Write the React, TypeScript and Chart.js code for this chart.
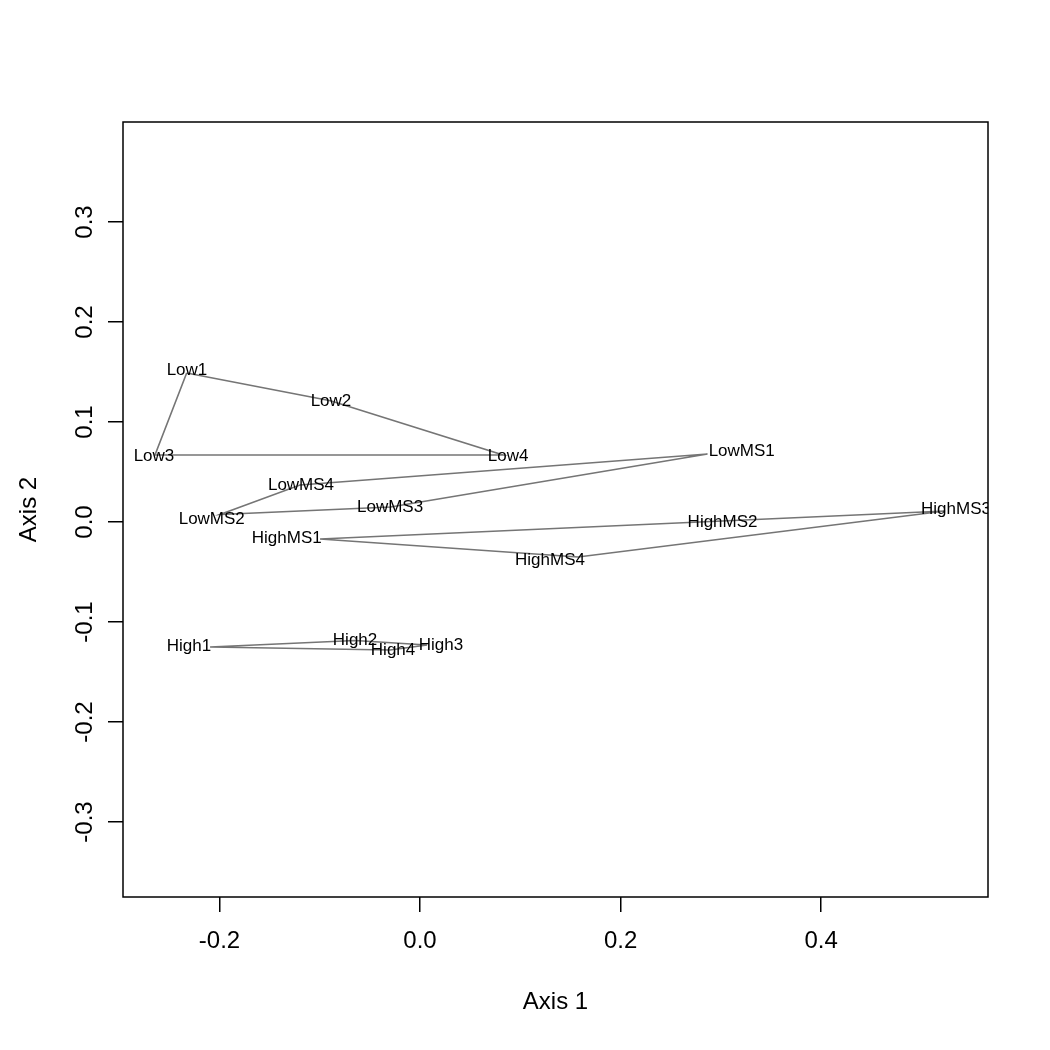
import React, { useEffect, useRef } from "react";
import { Chart, registerables } from "chart.js";

Chart.register(...registerables);

// Site names
const siteNames = [
  "Low1", "Low2", "Low3", "Low4",
  "LowMS1", "LowMS2", "LowMS3", "LowMS4",
  "HighMS1", "HighMS2", "HighMS3", "HighMS4",
  "High1", "High2", "High3", "High4",
];

// Ordination scores (hull vertices)
const scoreAxis1 = [
  -0.2327, -0.0893, -0.2643, 0.0828,
  0.2867, -0.1995, -0.0294, -0.1197,
  -0.0997, 0.3012, 0.5236, 0.1576,
  -0.2094, -0.0648, 0.0070, -0.0299,
];
const scoreAxis2 = [
  0.149, 0.1212, 0.067, 0.067,
  0.068, 0.0075, 0.015, 0.037,
  -0.017, 0.001, 0.011, -0.035,
  -0.125, -0.1185, -0.123, -0.128,
];

// Label anchor positions (axis units)
const labelAxis1 = [
  -0.2324, -0.0888, -0.2653, 0.0878,
  0.3208, -0.2077, -0.0299, -0.1187,
  -0.1329, 0.3017, 0.5345, 0.1296,
  -0.2304, -0.0648, 0.0209, -0.0269,
];
const labelAxis2 = [
  0.152, 0.1205, 0.066, 0.066,
  0.0703, 0.003, 0.015, 0.037,
  -0.016, -0.0005, 0.013, -0.038,
  -0.124, -0.118, -0.123, -0.128,
];

// Convex hulls (in drawing order)
const hullLow = ["Low1", "Low2", "Low4", "Low3"];
const hullLowMS = ["LowMS1", "LowMS4", "LowMS2", "LowMS3"];
const hullHighMS = ["HighMS1", "HighMS2", "HighMS3", "HighMS4"];
const hullHigh = ["High1", "High2", "High3", "High4"];
const hulls = [hullLow, hullLowMS, hullHighMS, hullHigh];

// Axes
const xTicks = [-0.2, 0.0, 0.2, 0.4];
const yTicks = [-0.3, -0.2, -0.1, 0.0, 0.1, 0.2, 0.3];
const X_MIN = -0.2962;
const X_MAX = 0.5664;
const Y_MIN = -0.375;
const Y_MAX = 0.4;

const FONT = "'Liberation Sans', Arial, Helvetica, sans-serif";

const fmt = (value: any) => {
  const v = Number(value);
  return (Math.abs(v) < 1e-9 ? 0 : v).toFixed(1);
};

const boxPlugin = {
  id: "box",
  afterDraw(chart: any) {
    const { ctx, chartArea } = chart;
    ctx.save();
    ctx.strokeStyle = "#000";
    ctx.lineWidth = 1.5;
    ctx.strokeRect(chartArea.left, chartArea.top, chartArea.right - chartArea.left, chartArea.bottom - chartArea.top);
    ctx.restore();
  },
};

const labelPlugin = {
  id: "siteLabels",
  afterDatasetsDraw(chart: any) {
    const { ctx, chartArea, scales } = chart;
    ctx.save();
    ctx.beginPath();
    ctx.rect(chartArea.left, chartArea.top, chartArea.right - chartArea.left, chartArea.bottom - chartArea.top);
    ctx.clip();
    ctx.fillStyle = "#000";
    ctx.font = `17px ${FONT}`;
    ctx.textAlign = "center";
    ctx.textBaseline = "middle";
    siteNames.forEach((name, i) => {
      const px = scales.x.getPixelForValue(labelAxis1[i]);
      const py = scales.y.getPixelForValue(labelAxis2[i]);
      ctx.fillText(name, px, py);
    });
    ctx.restore();
  },
};

export default function App() {
  const ref = useRef<HTMLCanvasElement>(null);

  useEffect(() => {
    const canvas = ref.current;
    if (!canvas) return;
    const datasets = hulls.map((hull) => {
      const pts = hull.map((n) => {
        const i = siteNames.indexOf(n);
        return { x: scoreAxis1[i], y: scoreAxis2[i] };
      });
      pts.push(pts[0]);
      return {
        data: pts,
        showLine: true,
        borderColor: "#757575",
        borderWidth: 1.6,
        pointRadius: 0,
        pointHoverRadius: 0,
        fill: false,
        tension: 0,
      };
    });

    const chart = new Chart(canvas, {
      type: "scatter",
      data: { datasets },
      options: {
        responsive: false,
        animation: false,
        devicePixelRatio: 1,
        layout: { padding: { top: 122, right: 62, left: 0, bottom: 0 } },
        plugins: { legend: { display: false }, tooltip: { enabled: false } },
        scales: {
          x: {
            type: "linear",
            position: "bottom",
            min: X_MIN,
            max: X_MAX,
            afterFit: (s: any) => { s.height = 153; },
            afterBuildTicks: (s: any) => { s.ticks = xTicks.map((v) => ({ value: v })); },
            grid: { drawOnChartArea: false, drawTicks: true, tickLength: 15, color: "#000", lineWidth: 1.5 },
            border: { display: false },
            ticks: {
              padding: 15,
              autoSkip: false,
              minRotation: 0,
              maxRotation: 0,
              color: "#000",
              font: { family: FONT, size: 24 },
              callback: fmt,
            },
            title: {
              display: true,
              text: "Axis 1",
              color: "#000",
              font: { family: FONT, size: 24 },
              padding: { top: 0, bottom: 33.6 },
            },
          },
          y: {
            type: "linear",
            position: "left",
            min: Y_MIN,
            max: Y_MAX,
            afterFit: (s: any) => { s.width = 123; },
            afterBuildTicks: (s: any) => { s.ticks = yTicks.map((v) => ({ value: v })); },
            grid: { drawOnChartArea: false, drawTicks: true, tickLength: 15, color: "#000", lineWidth: 1.5 },
            border: { display: false },
            ticks: {
              padding: 2.3,
              crossAlign: "center",
              autoSkip: false,
              minRotation: 90,
              maxRotation: 90,
              color: "#000",
              font: { family: FONT, size: 24 },
              callback: fmt,
            },
            title: {
              display: true,
              text: "Axis 2",
              color: "#000",
              font: { family: FONT, size: 24 },
              padding: { top: 14.6, bottom: 0 },
            },
          },
        },
      },
      plugins: [boxPlugin, labelPlugin],
    } as any);
    return () => chart.destroy();
  }, []);

  return (
    <div style={{ position: "absolute", left: 0, top: 0, width: 1050, height: 1050, background: "#fff" }}>
      <canvas ref={ref} width={1050} height={1050} style={{ width: 1050, height: 1050, display: "block" }} />
    </div>
  );
}
